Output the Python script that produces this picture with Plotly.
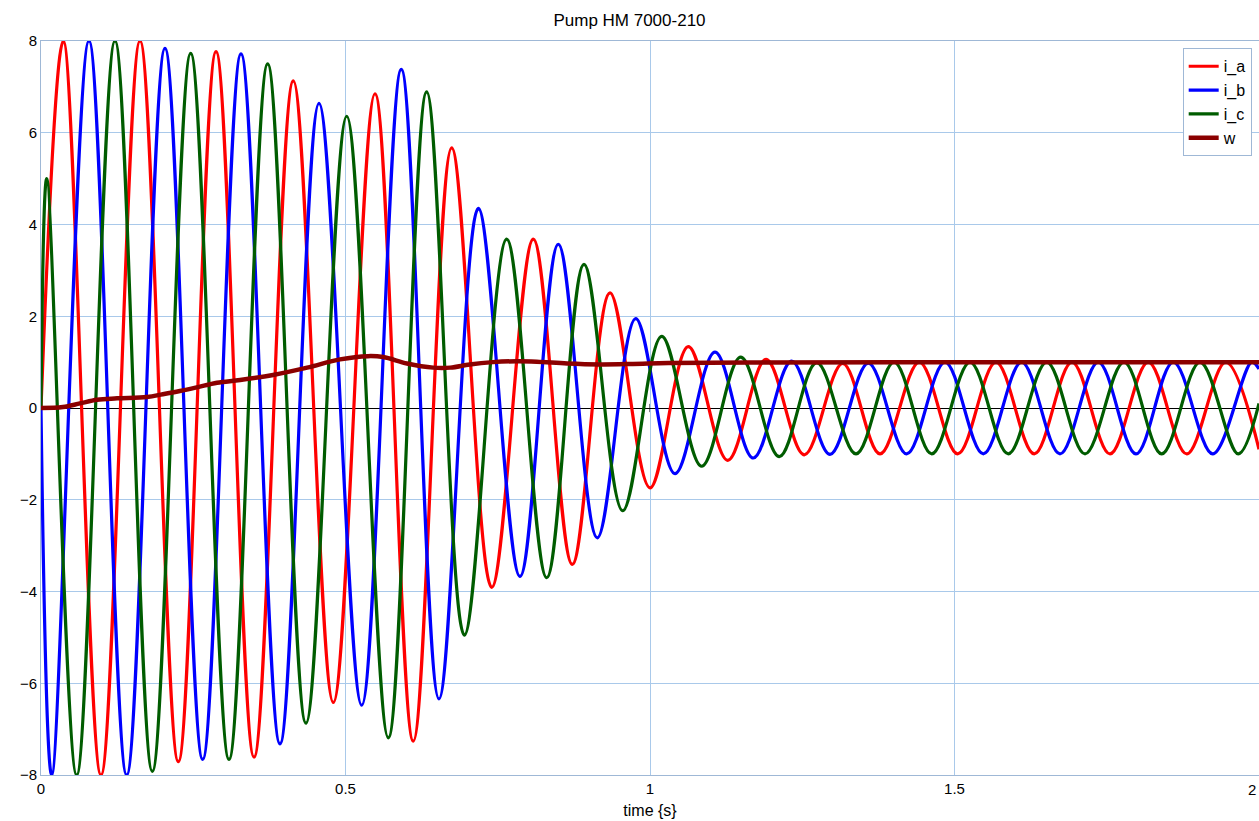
import plotly.graph_objects as go

# ---- data (time in s, value) ----
# i_a extrema
ia_t = [0.0, 0.0366, 0.0985, 0.1626, 0.2255, 0.2874, 0.3498, 0.4143, 0.480, 0.5484, 0.6113,
        0.6744, 0.7401, 0.8084, 0.8724, 0.9343, 1.0, 1.0629, 1.1276, 1.1905, 1.2534, 1.3164,
        1.3777, 1.4422, 1.5053, 1.5681, 1.6310, 1.6929, 1.7553, 1.8182, 1.8813, 1.9453, 2.0]
ia_v = [0.0, 8.0, -8.0, 8.0, -7.71, 7.77, -7.61, 7.13, -6.42, 6.85, -7.26,
        5.67, -3.91, 3.68, -3.41, 2.51, -1.74, 1.34, -1.14, 1.06, -1.02, 0.97,
        -1.0, 1.0, -1.0, 1.0, -1.0, 1.0, -1.0, 1.0, -1.0, 1.0, -0.9]

# i_b extrema
ib_t = [0.0, 0.0176, 0.0788, 0.1407, 0.2036, 0.2655, 0.3284, 0.3924, 0.4565, 0.5266, 0.5916,
        0.6535, 0.7181, 0.7865, 0.8494, 0.9135, 0.9765, 1.0411, 1.1067, 1.1696, 1.2327, 1.2956,
        1.3585, 1.4215, 1.4844, 1.5473, 1.6103, 1.6732, 1.7361, 1.7980, 1.8593, 1.9240, 1.9880, 2.0]
ib_v = [0.0, -8.0, 8.0, -8.0, 7.84, -7.66, 7.72, -7.32, 6.64, -6.48, 7.38,
        -6.34, 4.35, -3.67, 3.57, -2.83, 1.95, -1.43, 1.22, -1.09, 1.02, -1.01,
        0.98, -1.0, 1.0, -1.0, 1.0, -1.0, 1.0, -1.0, 1.0, -1.0, 1.0, 0.85]

# i_c extrema
ic_t = [0.0, 0.0094, 0.0586, 0.1215, 0.1828, 0.2458, 0.3087, 0.3722, 0.4351, 0.5020, 0.5703,
        0.6333, 0.6951, 0.7647, 0.8304, 0.8916, 0.9552, 1.0192, 1.0849, 1.1489, 1.2123, 1.2737,
        1.3383, 1.4007, 1.4626, 1.5255, 1.5883, 1.6514, 1.7143, 1.7783, 1.8402, 1.9031, 1.9660, 2.0]
ic_v = [0.0, 5.0, -8.0, 8.0, -7.92, 7.73, -7.66, 7.50, -6.87, 6.36, -7.19,
        6.89, -4.95, 3.68, -3.70, 3.13, -2.24, 1.56, -1.27, 1.11, -1.06, 0.99,
        -1.0, 1.0, -1.0, 1.0, -1.0, 1.0, -1.0, 1.0, -1.0, 1.0, -1.0, 0.1]

# w (speed)
w_t = [0.0, 0.036, 0.064, 0.092, 0.125, 0.174, 0.2, 0.228, 0.256, 0.289, 0.327, 0.381, 0.437,
       0.491, 0.537, 0.562, 0.601, 0.644, 0.672, 0.704, 0.742, 0.782, 0.814, 0.864, 0.918,
       0.972, 1.03, 1.164, 1.41, 2.0]
w_v = [0.0, 0.02, 0.1, 0.18, 0.21, 0.24, 0.3, 0.37, 0.45, 0.55, 0.61, 0.72, 0.88,
       1.06, 1.13, 1.11, 0.97, 0.88, 0.88, 0.95, 1.0, 1.02, 1.01, 0.97, 0.95,
       0.96, 0.98, 0.99, 1.0, 1.0]

x_ticks = [0, 0.5, 1, 1.5, 2]
x_tick_text = ["0", "0.5", "1", "1.5", "2"]
y_ticks = [-8, -6, -4, -2, 0, 2, 4, 6, 8]

series = [
    ("i_a", ia_t, ia_v, "#ff0000", 3.2),
    ("i_b", ib_t, ib_v, "#0000ff", 3.2),
    ("i_c", ic_t, ic_v, "#005c00", 3.2),
    ("w", w_t, w_v, "#8b0000", 4.5),
]

fig = go.Figure()
for name, t, v, col, wdt in series:
    fig.add_trace(go.Scatter(
        x=t, y=v, name=name, mode="lines",
        line=dict(color=col, width=wdt, shape="spline", smoothing=1.0),
    ))

font_family = "Liberation Sans, Arial, sans-serif"

# small tick marks on the zero line at the inner x ticks
for xv in x_ticks[1:-1]:
    fig.add_shape(type="line", xref="x", yref="y", x0=xv, x1=xv, y0=-0.09, y1=0.09,
                  line=dict(color="black", width=1), layer="below")

# last x tick label sits on the page edge
fig.add_annotation(x=x_ticks[-1], y=0, xref="x", yref="paper", yanchor="top",
                   xanchor="right", text=x_tick_text[-1], showarrow=False,
                   yshift=-4, xshift=-1,
                   font=dict(size=15, family=font_family, color="black"))

fig.update_layout(
    width=1259, height=821,
    margin=dict(l=41, r=0, t=41, b=46, autoexpand=False),
    paper_bgcolor="white", plot_bgcolor="white",
    font=dict(family=font_family, size=15, color="black"),
    title=dict(text="Pump HM 7000-210", x=0.5, xanchor="center",
               y=1 - 20 / 821, yanchor="middle", yref="container",
               font=dict(size=17, family=font_family)),
    showlegend=True,
    legend=dict(x=0.994, xanchor="right", y=0.99, yanchor="top",
                bgcolor="white", bordercolor="#9fb8d6", borderwidth=1,
                font=dict(size=16, family=font_family),
                itemwidth=30, tracegroupgap=0),
    xaxis=dict(range=[0, 2], tickvals=x_ticks[:-1], ticktext=x_tick_text[:-1],
               showgrid=True, gridcolor="#a9c9ea", gridwidth=1,
               showline=True, linecolor="#9fb8d6", linewidth=1, mirror=True,
               zeroline=False, ticks="", tickfont=dict(size=15),
               title=dict(text="time {s}", standoff=8, font=dict(size=16))),
    yaxis=dict(range=[-8, 8], tickvals=y_ticks,
               showgrid=True, gridcolor="#a9c9ea", gridwidth=1,
               showline=True, linecolor="#9fb8d6", linewidth=1, mirror=True,
               zeroline=True, zerolinecolor="black", zerolinewidth=1,
               ticks="", tickfont=dict(size=15)),
)

fig.write_html("out.html", config={"displayModeBar": False},
               post_script="document.body.style.margin='0';document.body.style.overflow='hidden';")
